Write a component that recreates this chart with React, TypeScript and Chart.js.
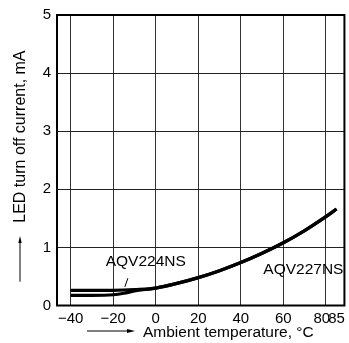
import React, { useEffect, useRef } from "react";
import { Chart, registerables } from "chart.js";

Chart.register(...registerables);

// ---- data ----
const tempsUpper = [-40, -30, -20, -10, 0, 10, 20, 30, 40, 50, 60, 70, 80, 85];
const aqv224ns = [0.26, 0.26, 0.262, 0.275, 0.30, 0.38, 0.48, 0.60, 0.74, 0.90, 1.08, 1.29, 1.53, 1.66];
const tempsLower = [-40, -30, -20, -15, -10, 0, 10, 20, 30, 40, 50, 60, 70, 80, 85];
const aqv227ns = [0.175, 0.175, 0.185, 0.21, 0.25, 0.30, 0.38, 0.48, 0.60, 0.74, 0.90, 1.08, 1.29, 1.53, 1.66];

const xTickValues = [-40, -20, 0, 20, 40, 60, 80, 85];
const xTickLabels = ["\u221240", "\u221220", "0", "20", "40", "60", "80", "85"];
const yTickValues = [0, 1, 2, 3, 4, 5];
const yTickLabels = ["0", "1", "2", "3", "4", "5"];

const xTitle = "Ambient temperature, \u00B0C";
const yTitle = "LED turn off current, mA";

// series labels: text, anchor (data coords), leader line (data coords)
const label224 = { text: "AQV224NS", x: -4.7, y: 0.75, lineFrom: [-14.5, 0.32], lineTo: [-13.1, 0.47] };
const label227 = { text: "AQV227NS", x: 69.4, y: 0.61 };

const FONT = "'Liberation Sans', Arial, Helvetica, sans-serif";

export default function App() {
  const ref = useRef<HTMLCanvasElement | null>(null);

  useEffect(() => {
    if (!ref.current) return;
    const decor = {
      id: "decor",
      beforeDatasetsDraw(chart: any) {
        const { ctx, chartArea } = chart;
        ctx.save();
        ctx.strokeStyle = "#000";
        ctx.lineWidth = 2;
        ctx.strokeRect(chartArea.left, chartArea.top, chartArea.right - chartArea.left, chartArea.bottom - chartArea.top);
        ctx.restore();
      },
      afterDatasetsDraw(chart: any) {
        const { ctx, chartArea } = chart;
        const xs = chart.scales.x;
        const ys = chart.scales.y;
        ctx.save();
        ctx.fillStyle = "#000";
        ctx.strokeStyle = "#000";
        // series labels
        ctx.font = `15.5px ${FONT}`;
        ctx.textBaseline = "middle";
        ctx.textAlign = "center";
        ctx.fillText(label224.text, xs.getPixelForValue(label224.x), ys.getPixelForValue(label224.y));
        ctx.fillText(label227.text, xs.getPixelForValue(label227.x), ys.getPixelForValue(label227.y));
        ctx.lineWidth = 1;
        ctx.beginPath();
        ctx.moveTo(xs.getPixelForValue(label224.lineFrom[0]), ys.getPixelForValue(label224.lineFrom[1]));
        ctx.lineTo(xs.getPixelForValue(label224.lineTo[0]), ys.getPixelForValue(label224.lineTo[1]));
        ctx.stroke();

        // x title with arrow
        ctx.font = `15.5px ${FONT}`;
        ctx.textAlign = "left";
        const ty = chartArea.bottom + 27;
        ctx.fillText(xTitle, 143, ty);
        ctx.lineWidth = 1;
        ctx.beginPath();
        ctx.moveTo(87, ty - 1.5);
        ctx.lineTo(131, ty - 1.5);
        ctx.stroke();
        ctx.beginPath();
        ctx.moveTo(135, ty - 1.5);
        ctx.lineTo(127, ty - 3.5);
        ctx.lineTo(127, ty + 0.5);
        ctx.closePath();
        ctx.fill();

        // y title with arrow
        ctx.font = `16px ${FONT}`;
        ctx.save();
        ctx.translate(21, 222.7);
        ctx.rotate(-Math.PI / 2);
        ctx.textAlign = "left";
        ctx.fillText(yTitle, 0, 0);
        ctx.restore();
        ctx.beginPath();
        ctx.moveTo(20, 281.7);
        ctx.lineTo(20, 240);
        ctx.stroke();
        ctx.beginPath();
        ctx.moveTo(20, 236);
        ctx.lineTo(18.3, 243);
        ctx.lineTo(21.7, 243);
        ctx.closePath();
        ctx.fill();
        ctx.restore();
      },
    };

    const chart = new Chart(ref.current, {
      type: "line",
      data: {
        datasets: [
          {
            label: "AQV224NS",
            data: tempsUpper.map((t, i) => ({ x: t, y: aqv224ns[i] })),
            borderColor: "#000",
            borderWidth: 3.2,
            pointRadius: 0,
            cubicInterpolationMode: "monotone",
            fill: false,
          },
          {
            label: "AQV227NS",
            data: tempsLower.map((t, i) => ({ x: t, y: aqv227ns[i] })),
            borderColor: "#000",
            borderWidth: 3.2,
            pointRadius: 0,
            cubicInterpolationMode: "monotone",
            fill: false,
          },
        ],
      },
      options: {
        animation: false,
        responsive: true,
        maintainAspectRatio: false,
        layout: { padding: { top: 15, right: 4, left: 0, bottom: 0 } },
        plugins: { legend: { display: false }, tooltip: { enabled: false }, title: { display: false } },
        scales: {
          x: {
            type: "linear",
            min: -46.4,
            max: 88.7,
            afterBuildTicks: (s: any) => {
              s.ticks = xTickValues.map((v) => ({ value: v }));
            },
            afterFit: (s: any) => {
              s.height = 37.5;
            },
            grid: {
              color: (c: any) => (c.tick && c.tick.value === 85 ? "rgba(0,0,0,0)" : "#333"),
              lineWidth: 1,
              drawTicks: false,
            },
            border: { display: false },
            ticks: {
              autoSkip: false,
              maxRotation: 0,
              padding: 4,
              color: "#000",
              font: { size: 15, family: FONT },
              callback: (v: any) => {
                const i = xTickValues.indexOf(Number(v));
                if (i < 0) return "";
                const next = xTickValues[i + 1];
                return next !== undefined && next - xTickValues[i] < 10 ? xTickLabels[i] + "  " : xTickLabels[i];
              },
            },
          },
          y: {
            type: "linear",
            min: 0,
            max: 5,
            afterBuildTicks: (s: any) => {
              s.ticks = yTickValues.map((v) => ({ value: v }));
            },
            afterFit: (s: any) => {
              s.width = 57;
            },
            grid: { color: "#222", lineWidth: 1, drawTicks: false },
            border: { display: false },
            ticks: {
              padding: 6,
              color: "#000",
              font: { size: 15, family: FONT },
              callback: (v: any) => {
                const i = yTickValues.indexOf(Number(v));
                return i < 0 ? "" : yTickLabels[i];
              },
            },
          },
        },
      },
      plugins: [decor],
    } as any);
    return () => chart.destroy();
  }, []);

  return (
    <div style={{ position: "absolute", left: 0, top: 0, width: 349, height: 343, background: "#fff" }}>
      <canvas ref={ref} />
    </div>
  );
}
